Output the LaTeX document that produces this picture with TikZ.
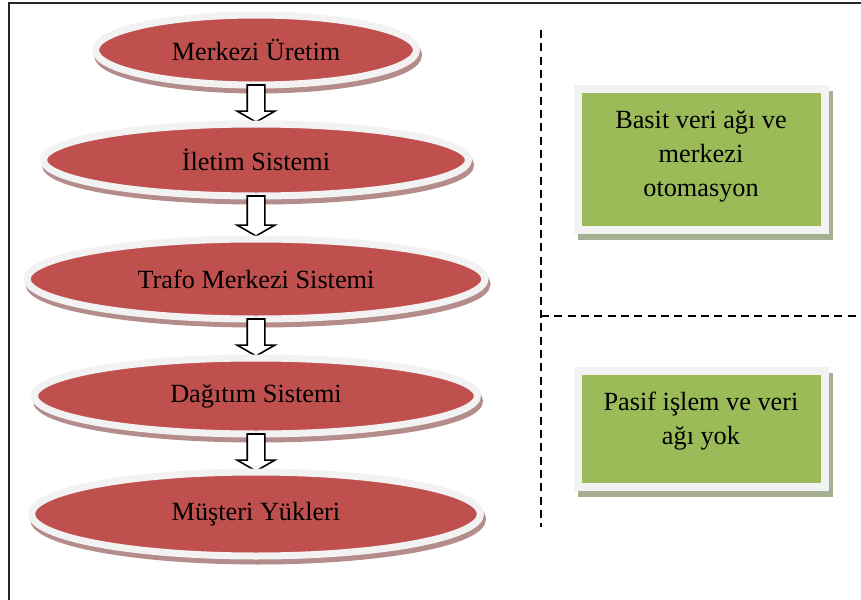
\documentclass[tikz,border=0pt]{standalone}
\usepackage{fontspec}
\setmainfont{Liberation Serif}
\usepackage{tikz}
\usetikzlibrary{positioning,shapes.geometric,shapes.arrows}

\definecolor{stagered}{HTML}{C0504D}
\definecolor{rimgray}{HTML}{F2F2F2}
\definecolor{stageshade}{HTML}{B48C8B}
\definecolor{notegreen}{HTML}{9BBB59}
\definecolor{noteshade}{HTML}{A7AF92}

\begin{document}
\begin{tikzpicture}[x=0.75pt,y=-0.75pt,
    stage/.style={ellipse,fill=stagered,draw=rimgray,line width=5.25pt,inner sep=0pt,outer sep=0pt,
      preaction={fill=stageshade,draw=stageshade,line width=5.25pt,transform canvas={shift={(2,5)}}},
      font=\fontsize{19.7}{24}\selectfont},
    downarrow/.style={single arrow,shape border rotate=270,draw=black,fill=white,line width=1.2pt,
      inner sep=6pt,outer sep=0pt,minimum width=0pt,single arrow head extend=7.5pt,
      single arrow tip angle=120,single arrow head indent=0pt,anchor=tail},
    note/.style={rectangle,fill=notegreen,draw=rimgray,line width=6pt,inner sep=0pt,outer sep=0pt,
      minimum width=185.25pt,align=center,
      preaction={fill=noteshade,draw=noteshade,line width=6pt,transform canvas={shift={(4,6)}}},
      font=\fontsize{19.7}{25.5}\selectfont},
    divider/.style={dash pattern=on 6pt off 4pt,line width=1.5pt}] %
  \useasboundingbox (0,0) rectangle (861,600); %
  % frame and dividers
  \draw[line width=2pt,black!85] (9,600) -- (9,3) -- (861,3); %
  \draw[divider] (541,30) -- (541,527); %
  \draw[divider] (541,316) -- (861,316); %
  % chain of stages
  \node[stage,minimum width=240.75pt,minimum height=52.5pt] (gen) at (256,50) {Merkezi Üretim} ; %
  \node[downarrow,minimum height=27.75pt] (ar1) at (gen.south) {} ; %
  \node[stage,minimum width=318.75pt,minimum height=54pt,below=1.5pt of ar1.tip] (trans) {İletim Sistemi} ; %
  \node[downarrow,minimum height=30pt] (ar2) at (trans.south) {} ; %
  \node[stage,minimum width=343.5pt,minimum height=60pt,below=2.25pt of ar2.tip] (subst) {Trafo Merkezi Sistemi} ; %
  \node[downarrow,minimum height=27.75pt] (ar3) at (subst.south) {} ; %
  \node[stage,minimum width=332.25pt,minimum height=57pt,below=1.5pt of ar3.tip] (distr) {Dağıtım Sistemi} ; %
  \node[downarrow,minimum height=27.75pt] (ar4) at (distr.south) {} ; %
  \node[stage,minimum width=336.75pt,minimum height=63pt,below=0.75pt of ar4.tip] (load) {Müşteri Yükleri} ; %
  % notes
  \node[note,minimum height=105.75pt,text depth=8.5pt] (auto) at (701,159.5) {Basit veri ağı ve\\merkezi\\otomasyon} ; %
  \node[note,minimum height=87pt,text depth=16pt,below=105.4pt of auto] (passive) {Pasif işlem ve veri\\ağı yok} ; %
\end{tikzpicture}
\end{document}
